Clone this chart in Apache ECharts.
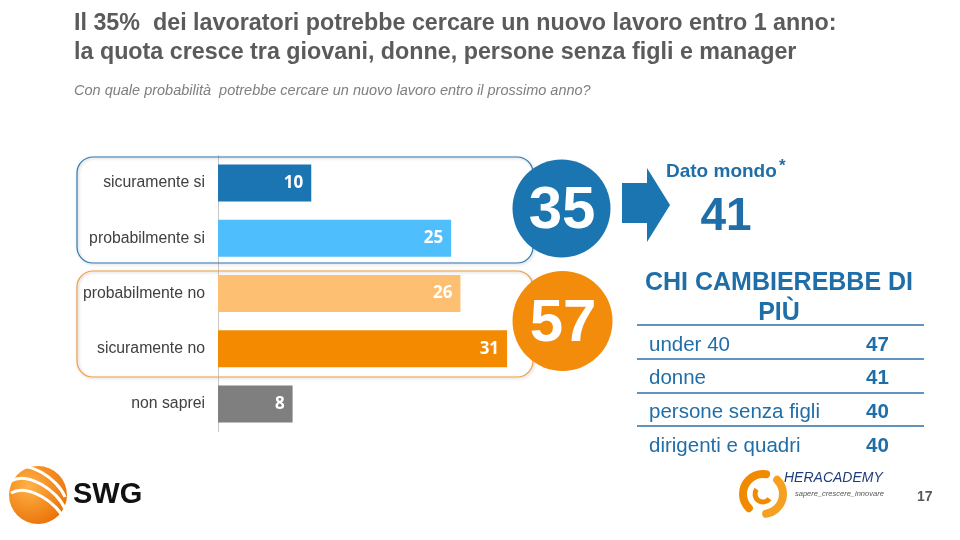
<!DOCTYPE html>
<html><head><meta charset="utf-8">
<script src="https://cdn.jsdelivr.net/npm/echarts@6/dist/echarts.min.js"></script>
<style>html,body{margin:0;padding:0;background:#fff}#c{width:960px;height:540px}</style>
</head><body><div id="c"></div>
<script>
const categories = ['sicuramente si','probabilmente si','probabilmente no','sicuramente no','non saprei'];
const values = [10, 25, 26, 31, 8];
const totalYes = 35;
const totalNo = 57;
const worldValue = 41;
const groups = ['under 40','donne','persone senza figli','dirigenti e quadri'];
const groupValues = [47, 41, 40, 40];

const barColors = ['#1b75b3','#4fbefc','#fdbf71','#f38a00','#7f7f7f'];
const BLUE = '#1a75b0', ORANGE = '#f28c0a', TXT = '#1f6ea8';
const SANS = '"Liberation Sans",Arial,sans-serif';

const chart = echarts.init(document.getElementById('c'));
const g = [];
// rounded group boxes
g.push({type:'rect',shape:{x:77,y:157,width:456,height:106,r:16},style:{fill:'rgba(0,0,0,0)',stroke:'#2a7ab5',lineWidth:1.2,shadowBlur:3,shadowColor:'rgba(0,0,0,0.25)',shadowOffsetX:1,shadowOffsetY:1},z:1});
g.push({type:'rect',shape:{x:77,y:271,width:456,height:106,r:16},style:{fill:'rgba(0,0,0,0)',stroke:'#f2a040',lineWidth:1.2,shadowBlur:3,shadowColor:'rgba(0,0,0,0.25)',shadowOffsetX:1,shadowOffsetY:1},z:1});
// circles
g.push({type:'circle',shape:{cx:561.5,cy:208.5,r:49},style:{fill:BLUE},z:5});
g.push({type:'text',x:562,y:211,style:{text:String(totalYes),fill:'#fff',font:'bold 60px '+SANS,align:'center',verticalAlign:'middle'},z:6});
g.push({type:'circle',shape:{cx:562.5,cy:321,r:50},style:{fill:ORANGE},z:5});
g.push({type:'text',x:563,y:324,style:{text:String(totalNo),fill:'#fff',font:'bold 60px '+SANS,align:'center',verticalAlign:'middle'},z:6});
// arrow
g.push({type:'polygon',shape:{points:[[622,183],[647,183],[647,168],[670,205],[647,242],[647,223],[622,223]]},style:{fill:BLUE},z:5});
g.push({type:'text',x:666,y:172,style:{text:'Dato mondo',fill:TXT,font:'bold 19px '+SANS,verticalAlign:'middle'}});
g.push({type:'text',x:779,y:166,style:{text:'*',fill:TXT,font:'bold 17px '+SANS,verticalAlign:'middle'}});
g.push({type:'text',x:726,y:217,style:{text:String(worldValue),fill:TXT,font:'bold 46px '+SANS,align:'center',verticalAlign:'middle'}});
// table
g.push({type:'text',x:779,y:283,style:{text:'CHI CAMBIEREBBE DI',fill:TXT,font:'bold 25px '+SANS,align:'center',verticalAlign:'middle'}});
g.push({type:'text',x:779,y:313,style:{text:'PIÙ',fill:TXT,font:'bold 25px '+SANS,align:'center',verticalAlign:'middle'}});
const lineYs=[325,359,393,426];
lineYs.forEach(y=>g.push({type:'line',shape:{x1:637,y1:y,x2:924,y2:y},style:{stroke:'#2b70a8',lineWidth:1.5}}));
groups.forEach((t,i)=>{
  const cy = 345 + i*33.7;
  g.push({type:'text',x:649,y:cy,style:{text:t,fill:TXT,font:'20.5px '+SANS,verticalAlign:'middle'}});
  g.push({type:'text',x:866,y:cy,style:{text:String(groupValues[i]),fill:TXT,font:'bold 20.5px '+SANS,verticalAlign:'middle'}});
});
// SWG logo
g.push({type:'circle',shape:{cx:38,cy:495,r:29},style:{fill:{type:'radial',x:0.35,y:0.35,r:0.8,colorStops:[{offset:0,color:'#ffb347'},{offset:1,color:'#e86a00'}]}}});
[-12,0,12].forEach(o=>g.push({type:'bezierCurve',shape:{x1:11,y1:481+o,x2:65,y2:509+o,cpx1:28,cpy1:471+o,cpx2:58,cpy2:491+o},style:{stroke:'#fff',lineWidth:3,fill:null}}));
g.push({type:'text',x:73,y:495,style:{text:'SWG',fill:'#111',font:'bold 29px '+SANS,verticalAlign:'middle'}});
// Heracademy logo
g.push({type:'arc',shape:{cx:763,cy:494,r:20,startAngle:Math.PI*0.75,endAngle:Math.PI*1.55},style:{stroke:'#f28a00',lineWidth:8,fill:null,lineCap:'round'}});
g.push({type:'arc',shape:{cx:763,cy:494,r:20,startAngle:Math.PI*-0.25,endAngle:Math.PI*0.45},style:{stroke:'#f5a020',lineWidth:8,fill:null,lineCap:'round'}});
g.push({type:'arc',shape:{cx:763,cy:494,r:8,startAngle:Math.PI*0.2,endAngle:Math.PI*1.2},style:{stroke:'#f28a00',lineWidth:5,fill:null}});
g.push({type:'text',x:784,y:478,style:{text:'HERACADEMY',fill:'#1f3c78',font:'italic 14px '+SANS,verticalAlign:'middle'}});
g.push({type:'text',x:795,y:494,style:{text:'sapere_crescere_innovare',fill:'#555',font:'italic 7.5px '+SANS,verticalAlign:'middle'}});
g.push({type:'text',x:917,y:497,style:{text:'17',fill:'#595959',font:'bold 14px '+SANS,verticalAlign:'middle'}});

chart.setOption({
  animation:false,
  backgroundColor:'#fff',
  title:[
    {text:'Il 35%  dei lavoratori potrebbe cercare un nuovo lavoro entro 1 anno:\nla quota cresce tra giovani, donne, persone senza figli e manager',left:69,top:4,
     textStyle:{fontFamily:SANS,fontWeight:'bold',fontSize:23.3,color:'#5b5b5b',lineHeight:29}},
    {text:'Con quale probabilità  potrebbe cercare un nuovo lavoro entro il prossimo anno?',left:69,top:78,
     textStyle:{fontFamily:SANS,fontStyle:'italic',fontWeight:'normal',fontSize:14.5,color:'#7f7f7f'}}
  ],
  grid:{left:218,top:155.5,width:373,height:276,containLabel:false},
  xAxis:{type:'value',min:0,max:40,show:false},
  yAxis:{type:'category',data:categories,inverse:true,
    axisLine:{show:true,lineStyle:{color:'#c8c8c8',width:1}},axisTick:{show:false},
    axisLabel:{color:'#404040',fontSize:15.8,fontFamily:SANS,margin:13}},
  series:[{type:'bar',barWidth:'67%',z:3,
    data:values.map((v,i)=>({value:v,itemStyle:{color:barColors[i]}})),
    label:{show:true,position:'insideRight',color:'#fff',fontWeight:'bold',fontSize:17,fontFamily:'"Open Sans",Arial',distance:8}}],
  graphic:g
});
</script></body></html>
